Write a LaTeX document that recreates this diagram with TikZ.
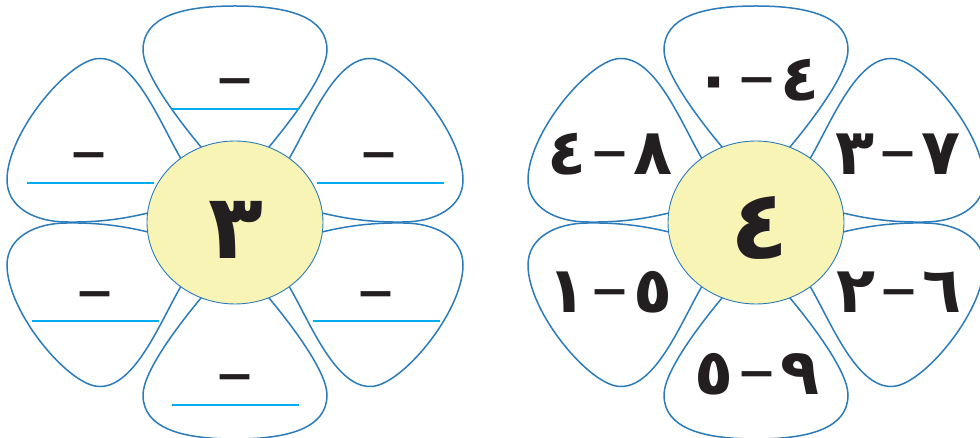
\documentclass[tikz,border=0pt]{standalone}
\usepackage{fontspec}
\TeXXeTstate=1
\newfontfamily\arabicfont[Script=Arabic]{DejaVu Sans}
\definecolor{petalblue}{HTML}{2B7BBA}
\definecolor{blankcyan}{HTML}{00AEEF}
\definecolor{centeryellow}{HTML}{F7F4B6}
\definecolor{inkblack}{HTML}{231F20}
\newcommand{\mns}{{\mdseries\fontsize{37}{38}\selectfont –}}
\tikzset{
  petal/.style={draw=petalblue, line width=0.75pt},
  heart/.style={draw=petalblue, line width=0.45pt, fill=centeryellow},
  blank/.style={draw=blankcyan, line width=1.1pt},
  numtext/.style={text=inkblack, inner sep=0pt, text height=20pt, text depth=0pt,
    font=\arabicfont\bfseries\fontsize{32}{33}\selectfont},
  bignum/.style={text=inkblack, inner sep=0pt, text height=33pt, text depth=0pt,
    font=\arabicfont\bfseries\fontsize{45}{46}\selectfont},
  pics/toppetal/.style={code={
    \draw[petal] (-28,66) -- (-34,75.5) .. controls (-59,105.5) and (-92,150) .. (-92,172.5)
      .. controls (-92,205) and (-55,216.5) .. (0,216.5)
      .. controls (55,216.5) and (92,205) .. (92,172.5)
      .. controls (92,150) and (59,105.5) .. (34,75.5) -- (28,66);
  }},
  pics/sidepetal/.style={code={
    \draw[petal] (-48,53) -- (-55,65.5) .. controls (-75,100) and (-100,164) .. (-135,164)
      .. controls (-165,165) and (-228,90) .. (-228,42.5)
      .. controls (-228,15) and (-200,0.5) .. (-168,0.5)
      .. controls (-135,0) and (-110,4) .. (-87,9.5) -- (-76,12);
  }},
}
\newcommand{\petalring}{%
  \pic {toppetal}; \pic[yscale=-1] {toppetal};
  \pic {sidepetal}; \pic[xscale=-1] {sidepetal};
  \pic[yscale=-1] {sidepetal}; \pic[scale=-1] {sidepetal};
  \draw[heart] (0,0) ellipse [x radius=88, y radius=81.5];
}
\begin{document}
\begin{tikzpicture}[x=0.5pt, y=0.5pt]
\useasboundingbox (0,0) rectangle (980,438);
% left flower
\begin{scope}[shift={(235,215.5)}]
  \petalring
  \node[bignum] (lc) at (1,-3) {\beginR ٣\endR};
  \node[numtext] (l1) at (0,140.5) {\mns};
  \node[numtext] (l2) at (-146,66.5) {\mns};
  \node[numtext] (l3) at (144,66.5) {\mns};
  \node[numtext] (l4) at (-140,-72.5) {\mns};
  \node[numtext] (l5) at (141,-72.5) {\mns};
  \node[numtext] (l6) at (0,-155.5) {\mns};
  \draw[blank] (-63,113.5) -- (64,113.5);
  \draw[blank] (-208,39.5) -- (-81,39.5);
  \draw[blank] (82,39.5) -- (209,39.5);
  \draw[blank] (-203,-98.5) -- (-76,-98.5);
  \draw[blank] (78,-98.5) -- (205,-98.5);
  \draw[blank] (-63,-182.5) -- (64,-182.5);
\end{scope}
% right flower
\begin{scope}[shift={(756,215.5)}]
  \petalring
  \node[bignum, font=\arabicfont\bfseries\fontsize{48}{49}\selectfont] (rc) at (4,-3.5) {\beginR ٤\endR};
  \node[numtext] (r1) at (1,141.5) {\beginR ٤\hspace{2.5pt}\mns\hspace{2.5pt}٠\endR};
  \node[numtext] (r2) at (-146,67.5) {\beginR ٨\hspace{2.5pt}\mns\hspace{2.5pt}٤\endR};
  \node[numtext] (r3) at (142,67.5) {\beginR ٧\hspace{2.5pt}\mns\hspace{2.5pt}٣\endR};
  \node[numtext] (r4) at (-146,-70.5) {\beginR ٥\hspace{2.5pt}\mns\hspace{2.5pt}١\endR};
  \node[numtext] (r5) at (143,-70.5) {\beginR ٦\hspace{2.5pt}\mns\hspace{2.5pt}٢\endR};
  \node[numtext] (r6) at (1,-152.5) {\beginR ٩\hspace{2.5pt}\mns\hspace{2.5pt}٥\endR};
\end{scope}
\end{tikzpicture}
\end{document}
